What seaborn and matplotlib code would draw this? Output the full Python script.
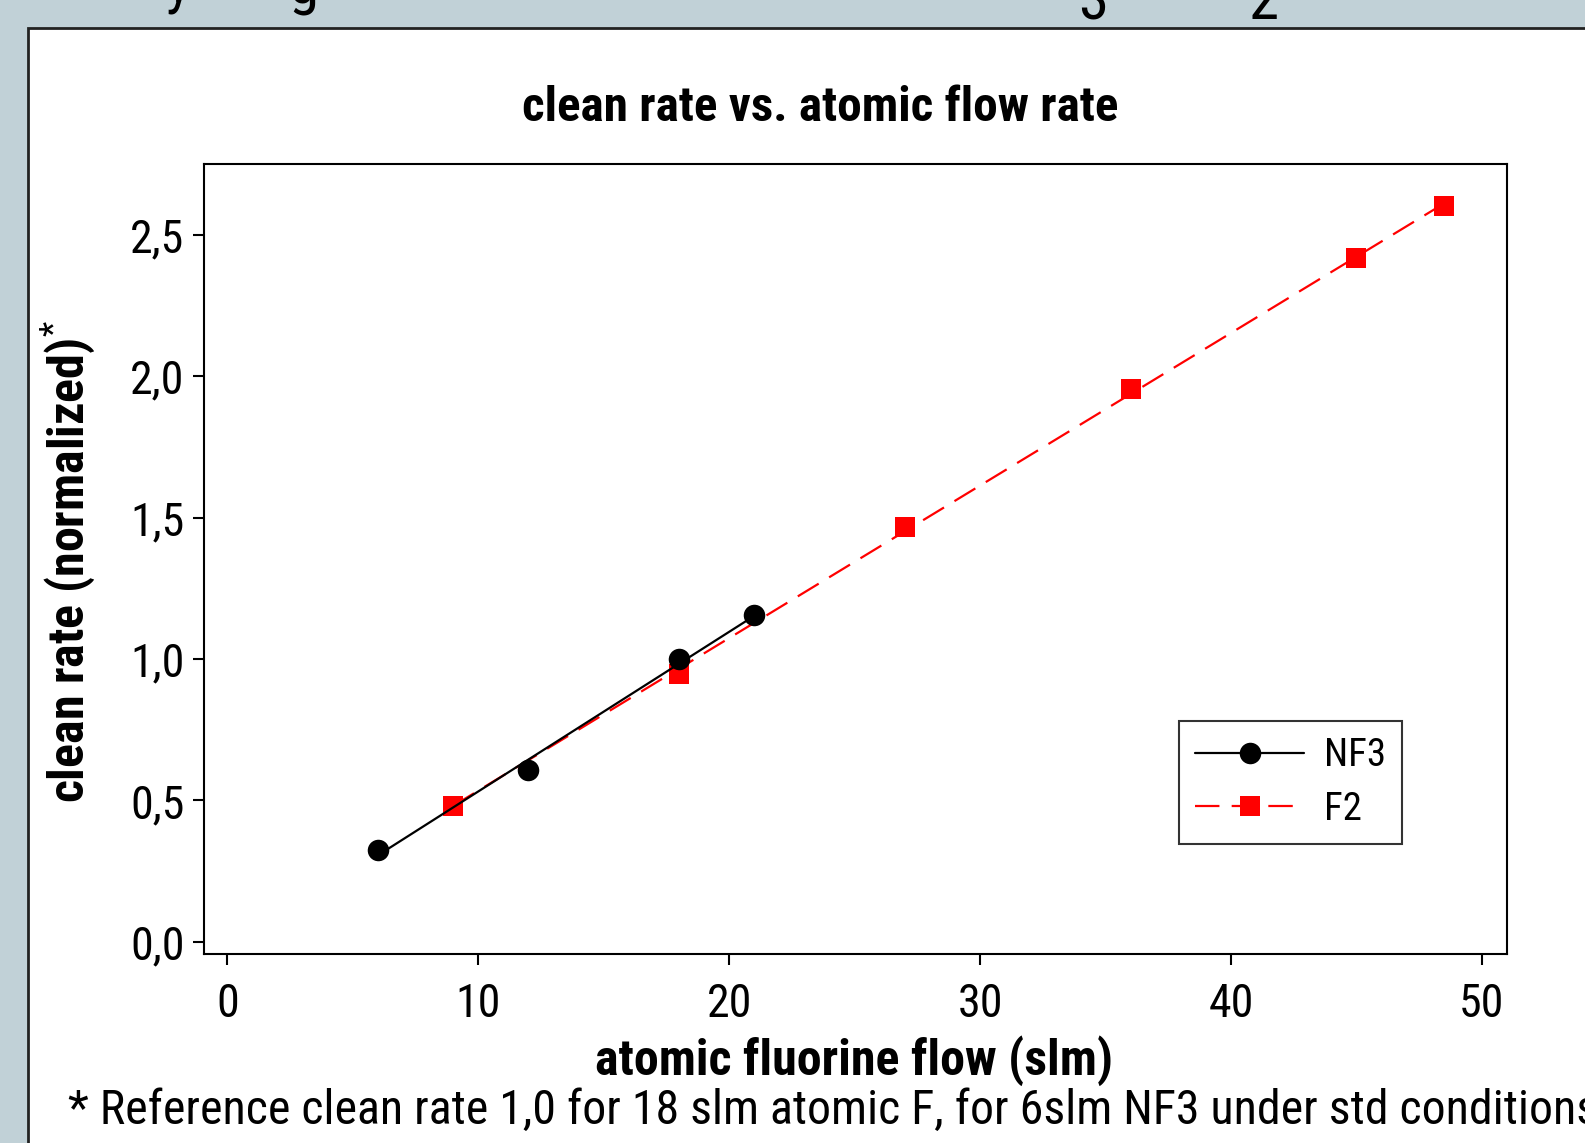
import matplotlib
matplotlib.use("Agg")
import matplotlib.pyplot as plt
import seaborn as sns
import pandas as pd
from matplotlib.patches import Rectangle
from matplotlib.lines import Line2D
from matplotlib import font_manager as fm

# ---- data ----
nf3_flow = [6, 12, 18, 21]
nf3_rate = [0.325, 0.607, 1.0, 1.154]
f2_flow = [9, 18, 27, 36, 45, 48.5]
f2_rate = [0.482, 0.946, 1.468, 1.954, 2.418, 2.60]
series_names = ["NF3", "F2"]
x_ticks = [0, 10, 20, 30, 40, 50]
y_ticks = [0.0, 0.5, 1.0, 1.5, 2.0, 2.5]
y_tick_labels = ["0,0", "0,5", "1,0", "1,5", "2,0", "2,5"]
title = "clean rate vs. atomic flow rate"
xlabel = "atomic fluorine flow (slm)"
ylabel = "clean rate (normalized)$^{*}$"
footnote = "* Reference clean rate 1,0 for 18 slm atomic F, for 6slm NF3 under std conditions"

sns.set_theme(style="white")
available = {f.name for f in fm.fontManager.ttflist}
cands = ['Liberation Sans Narrow', 'Roboto Condensed', 'Open Sans Condensed',
         'DejaVu Sans Condensed', 'Noto Sans Condensed']
fams = [c for c in cands if c in available] + ['DejaVu Sans']
plt.rcParams['font.family'] = fams
plt.rcParams['font.stretch'] = 'condensed'
plt.rcParams['mathtext.fontset'] = 'custom'
plt.rcParams['mathtext.rm'] = fams[0]

W, H = 1585, 1143
fig = plt.figure(figsize=(W / 100, H / 100), dpi=100)
fig.patch.set_facecolor("#c1d1d7")

# white panel with black border (behind axes)
fig.patches.append(Rectangle((28 / W, -0.05), 1.2, 1 - 28 / H + 0.05,
                             transform=fig.transFigure, facecolor="white",
                             edgecolor="#222222", linewidth=2.0, zorder=-5))

# clipped heading fragments at the very top
for ch, xp, yb in [("y", 166, 1), ("g", 288, 4), ("3", 1078, 19), ("2", 1248, 19)]:
    fig.text(xp / W, 1 - yb / H, ch, fontsize=44, color="black",
             ha="left", va="baseline", zorder=-4)

ax = fig.add_axes([204 / W, 1 - 954 / H, (1507 - 204) / W, (954 - 164) / H])
ax.set_facecolor("white")
ax.set_zorder(2)

df_nf3 = pd.DataFrame({"flow": nf3_flow, "rate": nf3_rate})
df_f2 = pd.DataFrame({"flow": f2_flow, "rate": f2_rate})

# F2: red squares with dashed linear fit
sns.regplot(data=df_f2, x="flow", y="rate", ax=ax, ci=None, truncate=True,
            marker="s", color="#ff0000",
            scatter_kws=dict(s=14 ** 2, linewidths=0, alpha=1, zorder=3),
            line_kws=dict(linewidth=1.6, dashes=(11, 5.5), zorder=2))
# NF3: black circles with solid linear fit
sns.regplot(data=df_nf3, x="flow", y="rate", ax=ax, ci=None, truncate=True,
            marker="o", color="black",
            scatter_kws=dict(s=15.5 ** 2, linewidths=0, alpha=1, zorder=4),
            line_kws=dict(linewidth=1.6, zorder=3))

ax.set_xlim(-0.93, 51.0)
ax.set_ylim(-0.043, 2.75)
ax.set_xticks(x_ticks)
ax.set_xticklabels([str(v) for v in x_ticks])
ax.set_yticks(y_ticks)
ax.set_yticklabels(y_tick_labels)
ax.tick_params(axis="both", direction="out", length=8, width=1.5, colors="black",
               labelsize=33, bottom=True, left=True)
ax.tick_params(axis="x", pad=12)
ax.tick_params(axis="y", pad=6)
for s in ax.spines.values():
    s.set_visible(True)
    s.set_color("black")
    s.set_linewidth(1.5)

ax.set_xlabel("")
ax.set_ylabel("")

fig.text(820 / W, 1 - 108 / H, title, fontsize=35.5, fontweight="bold",
         ha="center", va="center", color="black")
fig.text(854 / W, 1 - 1061 / H, xlabel, fontsize=36, fontweight="bold",
         ha="center", va="center", color="black")
fig.text(68 / W, 1 - 561 / H, ylabel, fontsize=36, fontweight="bold",
         ha="center", va="center", rotation=90, color="black")
fig.text(68 / W, 1 - 1111 / H, footnote, fontsize=34.5,
         ha="left", va="center", color="black")

handles = [Line2D([], [], color="black", marker="o", markersize=15.5, markeredgewidth=0, linewidth=1.6),
           Line2D([], [], color="#ff0000", marker="s", markersize=14, markeredgewidth=0,
                  linewidth=1.6, dashes=(11, 5.5))]
leg = ax.legend(handles, series_names, loc="upper left",
                bbox_to_anchor=((1179 - 204) / (1507 - 204), 1 - (721 - 164) / (954 - 164)),
                fontsize=28, frameon=True, fancybox=False, edgecolor="black",
                handlelength=2.8, handletextpad=0.5, borderpad=0.42, labelspacing=0.42,
                borderaxespad=0)
leg.get_frame().set_linewidth(1.5)
for t in leg.get_texts():
    t.set_color("black")

fig.savefig("out.png", dpi=100, facecolor=fig.get_facecolor())
